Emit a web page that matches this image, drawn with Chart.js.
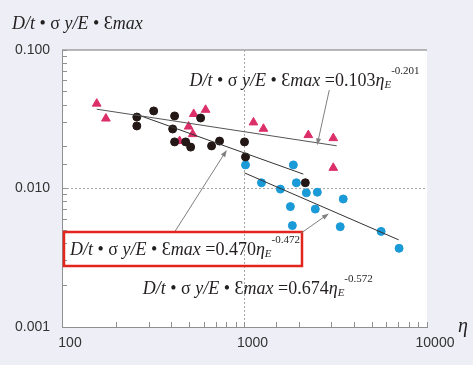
<!DOCTYPE html>
<html>
<head>
<meta charset="utf-8">
<script src="https://cdn.jsdelivr.net/npm/chart.js@4.4.1/dist/chart.umd.min.js"></script>
<style>
  html, body { margin: 0; padding: 0; background: #edeef6; }
  canvas { display: block; }
</style>
</head>
<body>
<canvas id="c" width="473" height="365"></canvas>
<script>
// measured points, eta_E vs D/t·σy/E·εmax
const triX = [155, 174, 494, 527, 612, 520, 441, 1120, 1270, 2237, 3065, 3065];
const triY = [0.041, 0.032, 0.028, 0.0345, 0.037, 0.0247, 0.022, 0.030, 0.027, 0.0243, 0.0231, 0.0141];

const blkX = [257, 257, 318, 414, 404, 414, 476, 507, 575, 660, 730, 1000, 1013, 2154];
const blkY = [0.0328, 0.0283, 0.0363, 0.0334, 0.0269, 0.0217, 0.0217, 0.0199, 0.0323, 0.0203, 0.0220, 0.0217, 0.0169, 0.0110];

const bluX = [1013, 1852, 1239, 1573, 1924, 2182, 2506, 1784, 2443, 1829, 3475, 3346, 5606, 7031];
const bluY = [0.0148, 0.0148, 0.0110, 0.0099, 0.0110, 0.0093, 0.0094, 0.0074, 0.0071, 0.0054, 0.0084, 0.0053, 0.0049, 0.0037];

// power-law fits y = c * x^e (triangles, black, blue) and the x span of each line
const fitCoef = [0.103, 0.470, 0.674];
const fitExp = [-0.201, -0.472, -0.572];
const fitFrom = [155, 250, 1000];
const fitTo = [3200, 2100, 7000];

const xTickLabels = [100, 1000, 10000];
const yTickLabels = [0.1, 0.01, 0.001];

const pts = (xs, ys) => xs.map((x, i) => ({ x: x, y: ys[i] }));
const fitAt = (k, x) => fitCoef[k] * Math.pow(x, fitExp[k]);
const fitLine = k => [fitFrom[k], fitTo[k]].map(x => ({ x: x, y: fitAt(k, x) }));
const isDecade = v => Math.abs(Math.log10(v) - Math.round(Math.log10(v))) < 1e-6;

const SERIF = '"Liberation Serif", "DejaVu Serif", serif';
const INK = '#231f20';

function eqSegs(k) {
    return [
        { t: 'D/t', it: true },
        { t: ' • σ ' },
        { t: 'y/E', it: true },
        { t: ' • ' },
        { t: 'Ɛ' },
        { t: 'max', it: true },
        { t: ' =' + fitCoef[k].toFixed(3) },
        { t: 'η', it: true },
        { t: 'E', it: true, sub: true },
        { t: fitExp[k].toFixed(3), sup: true }
    ];
}

function drawRich(ctx, x, y, segs, size) {
    let cx = x;
    segs.forEach(s => {
        const fs = (s.sub || s.sup) ? Math.round(size * 0.62) : size;
        ctx.font = (s.it ? 'italic ' : '') + fs + 'px ' + SERIF;
        const dy = s.sup ? -size * 0.68 : (s.sub ? size * 0.12 : 0);
        ctx.fillText(s.t, cx, y + dy);
        cx += ctx.measureText(s.t).width;
    });
    return cx;
}

function arrow(ctx, x1, y1, x2, y2) {
    const a = Math.atan2(y2 - y1, x2 - x1);
    ctx.beginPath();
    ctx.moveTo(x1, y1);
    ctx.lineTo(x2 - Math.cos(a) * 5, y2 - Math.sin(a) * 5);
    ctx.stroke();
    ctx.beginPath();
    ctx.moveTo(x2, y2);
    ctx.lineTo(x2 - Math.cos(a) * 7 + Math.sin(a) * 2.5, y2 - Math.sin(a) * 7 - Math.cos(a) * 2.5);
    ctx.lineTo(x2 - Math.cos(a) * 7 - Math.sin(a) * 2.5, y2 - Math.sin(a) * 7 + Math.cos(a) * 2.5);
    ctx.closePath();
    ctx.fill();
}

// equation labels: text anchor and arrow (from -> to) in data units
const notes = [
    { k: 0, at: [500, 0.055], from: [2914, 0.0514], to: [2500, 0.0205] },
    { k: 1, at: [110.6, 0.00331], from: [414, 0.00485], to: [800, 0.019], boxed: true },
    { k: 2, at: [277, 0.00173], from: [2049, 0.00478], to: [2900, 0.0066] }
];

const plotFrame = {
    id: 'plotFrame',
    beforeDraw(chart) {
        const { ctx, chartArea: a } = chart;
        ctx.save();
        ctx.fillStyle = '#ffffff';
        ctx.fillRect(a.left, a.top, a.right - a.left, a.bottom - a.top);
        ctx.strokeStyle = '#a0a0a0';
        ctx.lineWidth = 1.5;
        ctx.beginPath();
        ctx.moveTo(a.left, a.top);
        ctx.lineTo(a.right, a.top);
        ctx.stroke();
        ctx.restore();
    },
    afterDraw(chart) {
        const { ctx, chartArea: a, scales: { x, y } } = chart;
        ctx.save();
        ctx.fillStyle = INK;
        ctx.textBaseline = 'alphabetic';
        ctx.textAlign = 'left';

        // axis titles
        drawRich(ctx, 12, 29, [
            { t: 'D/t', it: true }, { t: ' • σ ' }, { t: 'y/E', it: true },
            { t: ' • ' }, { t: 'Ɛ' }, { t: 'max', it: true }
        ], 18);
        ctx.font = 'italic 20px ' + SERIF;
        ctx.fillText('η', a.right + 31, a.bottom + 5);

        notes.forEach(n => {
            const tx = x.getPixelForValue(n.at[0]);
            const ty = y.getPixelForValue(n.at[1]);
            ctx.fillStyle = INK;
            const end = drawRich(ctx, tx, ty, eqSegs(n.k), 18);
            ctx.strokeStyle = '#808080';
            ctx.fillStyle = '#808080';
            ctx.lineWidth = 1;
            arrow(ctx, x.getPixelForValue(n.from[0]), y.getPixelForValue(n.from[1]),
                x.getPixelForValue(n.to[0]), y.getPixelForValue(n.to[1]));
            if (n.boxed) {
                ctx.strokeStyle = '#e3261d';
                ctx.lineWidth = 2.5;
                ctx.strokeRect(tx - 6, ty - 23, end - tx + 8, 34);
            }
        });
        ctx.restore();
    }
};

new Chart(document.getElementById('c'), {
    type: 'scatter',
    data: {
        datasets: [
            {
                data: pts(triX, triY), pointStyle: 'triangle', radius: 5, borderWidth: 1,
                backgroundColor: '#dc2f6a', borderColor: '#dc2f6a', order: 3
            },
            {
                data: pts(blkX, blkY), pointStyle: 'circle', radius: 4, borderWidth: 1,
                backgroundColor: '#231815', borderColor: '#231815', order: 1
            },
            {
                data: pts(bluX, bluY), pointStyle: 'circle', radius: 4, borderWidth: 1,
                backgroundColor: '#1b9ad8', borderColor: '#1b9ad8', order: 2
            },
            ...[0, 1, 2].map(k => ({
                type: 'line', data: fitLine(k), borderColor: k === 0 ? '#555555' : '#333333',
                borderWidth: 1, pointRadius: 0, fill: false, order: 0
            }))
        ]
    },
    options: {
        responsive: false,
        animation: false,
        devicePixelRatio: 1,
        layout: { padding: { left: 0, top: 50, right: 46, bottom: 0 } },
        plugins: { legend: { display: false }, tooltip: { enabled: false } },
        scales: {
            x: {
                type: 'logarithmic', min: 100, max: 10000,
                afterFit: s => { s.height = 38; },
                border: { display: true, color: '#909090', width: 1, dash: [2, 2] },
                grid: {
                    color: c => c.tick && c.tick.value === 1000 ? '#a8a8a8' : 'rgba(0,0,0,0)',
                    tickColor: '#909090', tickLength: -5, lineWidth: 1
                },
                ticks: {
                    autoSkip: false, maxRotation: 0, padding: 13, labelOffset: 8,
                    color: '#333333', font: { family: '"Liberation Sans", Arial, sans-serif', size: 14 },
                    callback: v => xTickLabels.some(t => Math.abs(t - v) < 1e-6) ? String(v) : ''
                }
            },
            y: {
                type: 'logarithmic', min: 0.001, max: 0.1,
                afterFit: s => { s.width = 62; },
                border: { display: true, color: '#909090', width: 1, dash: [2, 2] },
                grid: {
                    color: c => c.tick && isDecade(c.tick.value) && Math.abs(c.tick.value - 0.01) < 1e-9 ? '#a8a8a8' : 'rgba(0,0,0,0)',
                    tickColor: '#909090', tickLength: -5, lineWidth: 1
                },
                ticks: {
                    autoSkip: false, padding: 17,
                    color: '#333333', font: { family: '"Liberation Sans", Arial, sans-serif', size: 14 },
                    callback: v => yTickLabels.some(t => Math.abs(t - v) < 1e-9) ? v.toFixed(3) : ''
                }
            }
        }
    },
    plugins: [plotFrame]
});
</script>
</body>
</html>
